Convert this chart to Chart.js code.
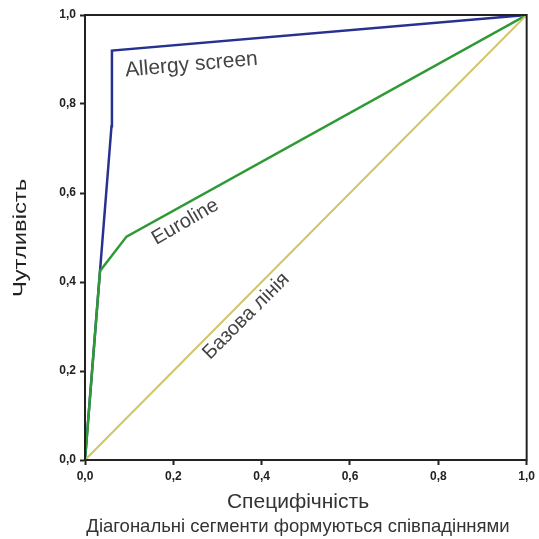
<!DOCTYPE html>
<html>
<head>
<meta charset="utf-8">
<script src="https://cdn.jsdelivr.net/npm/chart.js@4/dist/chart.umd.min.js"></script>
<style>
  html, body { margin: 0; padding: 0; background: #fff; }
  #wrap { width: 539px; height: 539px; }
</style>
</head>
<body>
<div id="wrap"><canvas id="roc" width="539" height="539"></canvas></div>
<script>
// ROC curves: 1 - specificity on x, sensitivity on y
const allergyX = [0, 0.06, 0.061, 1];
const allergyY = [0, 0.75, 0.92, 1];
const eurolineX = [0, 0.034, 0.094, 1];
const eurolineY = [0, 0.425, 0.502, 1];
const baselineX = [0, 1];
const baselineY = [0, 1];
const tickValues = [0, 0.2, 0.4, 0.6, 0.8, 1];

// curve labels, placed in data coordinates
const curveLabels = [
    { text: 'Allergy screen', x: 0.241, y: 0.888, angle: -5, size: 21 },
    { text: 'Euroline', x: 0.227, y: 0.535, angle: -30, size: 20 },
    { text: 'Базова лінія', x: 0.365, y: 0.323, angle: -45, size: 20 }
];

const FONT = '"Liberation Sans", Arial, sans-serif';

function toPoints(xs, ys) {
    return xs.map((x, i) => ({ x: x, y: ys[i] }));
}

function fmt(v) {
    return v.toFixed(1).replace('.', ',');
}

// frame, curve labels and titles
const textPlugin = {
    id: 'textPlugin',
    afterDraw(chart) {
        const ctx = chart.ctx;
        const a = chart.chartArea;
        const xs = chart.scales.x;
        const ys = chart.scales.y;

        ctx.save();
        ctx.strokeStyle = '#222';
        ctx.lineWidth = 2;
        ctx.strokeRect(a.left, a.top, a.right - a.left, a.bottom - a.top);

        ctx.fillStyle = '#444';
        ctx.textAlign = 'center';
        ctx.textBaseline = 'middle';
        curveLabels.forEach(l => {
            ctx.save();
            ctx.font = l.size + 'px ' + FONT;
            ctx.translate(xs.getPixelForValue(l.x), ys.getPixelForValue(l.y));
            ctx.rotate(l.angle * Math.PI / 180);
            ctx.fillText(l.text, 0, 0);
            ctx.restore();
        });

        ctx.fillStyle = '#333';
        ctx.font = '21px ' + FONT;
        ctx.fillText('Специфічність', 298, 502);
        ctx.font = '18.5px ' + FONT;
        ctx.fillText('Діагональні сегменти формуються співпадіннями', 298, 527);

        ctx.save();
        ctx.translate(21, 238);
        ctx.rotate(-Math.PI / 2);
        ctx.scale(1.25, 1);
        ctx.fillStyle = '#222';
        ctx.font = '19px ' + FONT;
        ctx.fillText('Чутливість', 0, 0);
        ctx.restore();
        ctx.restore();
    }
};

const tickOpts = {
    color: '#222',
    font: { family: FONT, size: 12, weight: 'bold' },
    padding: 4,
    callback: v => fmt(v)
};

const gridOpts = {
    display: true,
    drawOnChartArea: false,
    drawTicks: true,
    tickLength: 5,
    tickWidth: 2,
    color: '#222'
};

new Chart(document.getElementById('roc'), {
    type: 'scatter',
    data: {
        datasets: [
            {
                label: 'Базова лінія',
                data: toPoints(baselineX, baselineY),
                showLine: true,
                borderColor: '#cfc468',
                borderWidth: 2,
                pointRadius: 0,
                fill: false
            },
            {
                label: 'Euroline',
                data: toPoints(eurolineX, eurolineY),
                showLine: true,
                borderColor: '#2e9a35',
                borderWidth: 2.5,
                pointRadius: 0,
                fill: false
            },
            {
                label: 'Allergy screen',
                data: toPoints(allergyX, allergyY),
                showLine: true,
                borderColor: '#27318f',
                borderWidth: 2.5,
                pointRadius: 0,
                fill: false
            }
        ]
    },
    options: {
        responsive: false,
        animation: false,
        layout: { padding: { top: 15, right: 8, left: 0, bottom: 0 } },
        plugins: {
            legend: { display: false },
            tooltip: { enabled: false }
        },
        scales: {
            x: {
                type: 'linear',
                min: 0,
                max: 1,
                afterBuildTicks: s => { s.ticks = tickValues.map(v => ({ value: v })); },
                afterFit: s => { s.height = 79; },
                ticks: tickOpts,
                grid: gridOpts,
                border: { color: '#222', width: 2 }
            },
            y: {
                type: 'linear',
                min: 0,
                max: 1,
                afterBuildTicks: s => { s.ticks = tickValues.map(v => ({ value: v })); },
                afterFit: s => { s.width = 85; },
                ticks: tickOpts,
                grid: gridOpts,
                border: { color: '#222', width: 2 }
            }
        }
    },
    plugins: [textPlugin]
});
</script>
</body>
</html>
